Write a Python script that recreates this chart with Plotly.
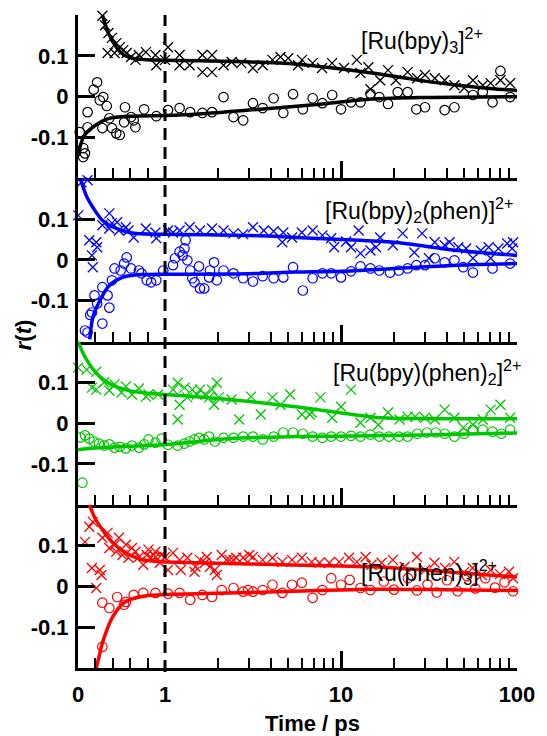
import plotly.graph_objects as go

# ---------------- data: anisotropy r(t), time in ps ----------------
# [Ru(bpy)3]2+
bpy3_cross_t = [0.28, 0.31, 0.35, 0.39, 0.34, 0.42, 0.44, 0.48, 0.52, 0.56, 0.61, 0.66, 0.70, 0.78, 0.89,
                0.90, 1.0, 1.04, 1.21, 1.21, 1.38, 1.63, 1.85, 1.63, 1.85, 2.15, 2.39, 2.71, 3.16, 3.59,
                4.08, 4.53, 5.01, 5.70, 6.0, 6.9, 7.8, 8.9, 10.4, 12.3, 12.9, 14.3, 14.7, 16.7, 18.5,
                20.5, 23.9, 27.1, 30.0, 34.1, 38.8, 44.1, 50.1, 56.2, 63.9, 70.8, 80.5, 91.4]
bpy3_cross_r = [0.198, 0.175, 0.156, 0.144, 0.107, 0.107, 0.131, 0.121, 0.114, 0.107, 0.097, 0.090, 0.102, 0.109, 0.102,
                0.077, 0.090, 0.121, 0.077, 0.102, 0.077, 0.102, 0.102, 0.060, 0.060, 0.077, 0.085, 0.082, 0.070, 0.077,
                0.090, 0.097, 0.094, 0.077, 0.090, 0.082, 0.070, 0.082, 0.070, 0.090, 0.058, 0.072, 0.018, 0.040, 0.065,
                0.040, 0.060, 0.045, 0.053, 0.045, 0.040, 0.028, 0.021, 0.040, 0.028, 0.033, 0.040, 0.033]
bpy3_circ_t = [0.02, 0.06, 0.08, 0.06, 0.11, 0.11, 0.18, 0.22, 0.25, 0.29, 0.33, 0.36, 0.39, 0.44, 0.48,
               0.28, 0.53, 0.54, 0.61, 0.64, 0.66, 0.76, 0.90, 1.04, 1.21, 1.39, 1.63, 1.85, 2.15, 2.45,
               2.78, 3.16, 3.59, 4.14, 4.70, 5.34, 6.07, 6.90, 7.84, 8.91, 10.0, 11.4, 12.9, 14.7, 16.5,
               18.5, 21.0, 23.9, 26.8, 30.0, 38.8, 44.1, 56.2, 63.9, 72.6, 80.5, 91.4]
bpy3_circ_r = [-0.087, -0.126, -0.139, -0.148, -0.038, -0.075, 0.017, 0.035, -0.009, -0.001, -0.023, -0.053, -0.077, -0.090, -0.094,
               -0.077, -0.063, -0.026, -0.050, -0.058, -0.075, -0.031, -0.048, -0.033, -0.028, -0.038, -0.040, -0.038, -0.001, -0.050,
               -0.058, -0.016, -0.028, -0.004, -0.040, 0.006, -0.031, -0.004, -0.016, 0.004, -0.031, -0.014, -0.014, 0.007, -0.001,
               -0.018, 0.011, 0.011, -0.031, -0.026, -0.033, -0.026, 0.004, 0.011, -0.014, 0.063, -0.001]
bpy3_cfit_t = [0.28, 0.35, 0.44, 0.52, 0.62, 0.75, 1, 2.5, 5.5, 9, 15, 20, 30, 46, 70, 100]
bpy3_cfit_r = [0.2, 0.155, 0.121, 0.103, 0.094, 0.091, 0.089, 0.086, 0.08, 0.07, 0.058, 0.05, 0.038, 0.028, 0.02, 0.015]
bpy3_ofit_t = [0.005, 0.03, 0.06, 0.1, 0.2, 0.35, 0.6, 1, 1.5, 3, 7, 15, 30, 100]
bpy3_ofit_r = [-0.145, -0.118, -0.1, -0.088, -0.07, -0.054, -0.048, -0.046, -0.043, -0.033, -0.02, -0.006, -0.002, 0.0]

# [Ru(bpy)2(phen)]2+
bpy2phen_cross_t = [0.003, 0.04, 0.11, 0.16, 0.17, 0.13, 0.21, 0.22, 0.28, 0.36, 0.36, 0.39, 0.45, 0.47, 0.55,
                    0.58, 0.64, 0.78, 0.90, 0.89, 1.04, 1.11, 1.21, 1.38, 1.58, 1.85, 2.15, 2.45, 2.78, 3.16,
                    3.64, 4.14, 4.70, 4.64, 5.27, 5.99, 6.9, 7.84, 8.80, 9.14, 10.7, 11.4, 12.6, 12.9, 14.7,
                    15.8, 16.7, 19.7, 22.4, 26.1, 28.9, 31.6, 34.1, 38.8, 41.4, 46.4, 51.4, 56.2, 62.3, 69.0,
                    70.8, 78.4, 88.0, 93.8, 95.0]
bpy2phen_cross_r = [0.109, 0.190, 0.195, 0.011, -0.018, 0.048, 0.043, 0.031, 0.085, 0.114, 0.077, 0.090, 0.092, 0.072, 0.080,
                    0.072, 0.055, 0.077, 0.053, 0.067, 0.072, 0.067, 0.072, 0.080, 0.072, 0.077, 0.072, 0.065, 0.063, 0.080,
                    0.072, 0.070, 0.067, 0.043, 0.055, 0.067, 0.072, 0.060, 0.053, 0.031, 0.045, 0.031, 0.072, 0.016, 0.023,
                    0.031, 0.055, 0.036, 0.065, 0.018, 0.065, 0.004, 0.043, 0.036, 0.043, 0.031, 0.028, 0.004, 0.023, 0.031,
                    0.004, 0.028, 0.040, 0.028, 0.043]
bpy2phen_circ_t = [0.08, 0.11, 0.16, 0.14, 0.19, 0.22, 0.28, 0.28, 0.34, 0.36, 0.39, 0.42, 0.49, 0.53, 0.56,
                   0.61, 0.70, 0.73, 0.79, 0.84, 0.90, 0.98, 1.11, 1.14, 1.21, 1.26, 1.29, 1.31, 1.34, 1.39,
                   1.43, 1.47, 1.56, 1.58, 1.67, 1.78, 1.80, 1.90, 1.97, 2.15, 2.45, 2.78, 3.16, 3.59, 4.14,
                   4.70, 5.34, 6.07, 6.90, 7.84, 8.80, 10.0, 11.4, 12.9, 14.7, 16.5, 19.0, 21.3, 23.9, 26.8,
                   30.0, 34.1, 38.8, 44.1, 49.5, 56.2, 72.6, 91.4]
bpy2phen_circ_r = [-0.173, -0.178, -0.129, -0.135, -0.087, -0.107, -0.067, -0.156, -0.087, -0.117, -0.050, -0.021, -0.026, -0.009, 0.006,
                   -0.021, -0.026, -0.033, -0.050, -0.055, -0.050, -0.026, -0.013, 0.004, 0.020, 0.011, 0.028, 0.048, -0.001, -0.026,
                   -0.045, -0.055, -0.016, -0.070, -0.070, -0.043, -0.026, -0.006, -0.050, -0.026, -0.033, -0.045, -0.053, -0.040, -0.045,
                   -0.043, -0.018, -0.075, -0.045, -0.033, -0.033, -0.043, -0.028, -0.016, -0.021, -0.026, -0.031, -0.026, -0.021, -0.013,
                   -0.013, 0.004, -0.006, -0.001, -0.018, -0.031, -0.021, -0.009]
bpy2phen_cfit_t = [0.03, 0.1, 0.17, 0.28, 0.44, 0.62, 1, 3, 5.5, 10, 20, 46, 100]
bpy2phen_cfit_r = [0.197, 0.155, 0.129, 0.097, 0.077, 0.066, 0.063, 0.06, 0.055, 0.05, 0.043, 0.023, 0.011]
bpy2phen_ofit_t = [0.135, 0.17, 0.25, 0.36, 0.51, 0.73, 1, 3, 5.5, 10, 20, 46, 100]
bpy2phen_ofit_r = [-0.195, -0.141, -0.1, -0.063, -0.043, -0.036, -0.035, -0.034, -0.03, -0.028, -0.021, -0.013, -0.009]

# [Ru(bpy)(phen)2]2+
bpyphen2_cross_t = [0.0, 0.10, 0.21, 0.16, 0.21, 0.30, 0.36, 0.42, 0.50, 0.55, 0.62, 0.70, 0.78, 0.81, 0.92,
                    1.11, 1.18, 1.21, 1.18, 1.29, 1.34, 1.43, 1.52, 1.58, 1.69, 1.78, 1.85, 1.90, 1.97, 2.02,
                    2.39, 2.64, 3.08, 3.50, 4.08, 4.53, 5.14, 5.99, 6.64, 6.81, 7.64, 8.91, 10.0, 11.4, 12.9,
                    14.7, 16.3, 18.5, 21.5, 23.9, 26.4, 30.0, 34.1, 38.8, 44.1, 49.5, 56.2, 63.9, 70.8, 80.5,
                    91.4]
bpyphen2_cross_r = [0.136, 0.131, 0.126, 0.087, 0.082, 0.100, 0.080, 0.095, 0.075, 0.090, 0.070, 0.085, 0.065, 0.070, 0.070,
                    0.082, 0.099, 0.045, 0.009, 0.087, 0.063, 0.082, 0.070, 0.082, 0.070, 0.063, 0.082, 0.045, 0.099, 0.063,
                    0.058, 0.009, 0.065, 0.021, 0.063, 0.045, 0.070, 0.021, 0.021, 0.026, 0.063, 0.013, 0.040, 0.082, 0.001,
                    0.013, -0.004, 0.026, 0.009, 0.016, 0.016, 0.013, 0.009, 0.033, 0.013, -0.011, -0.004, 0.009, 0.033, 0.045,
                    0.013]
bpyphen2_circ_t = [0.05, 0.03, 0.08, 0.13, 0.18, 0.24, 0.30, 0.36, 0.42, 0.48, 0.55, 0.62, 0.70, 0.76, 0.81,
                   0.89, 0.96, 1.04, 1.18, 1.29, 1.38, 1.47, 1.56, 1.67, 1.78, 1.92, 2.15, 2.45, 2.78, 3.16,
                   3.59, 4.14, 4.70, 5.34, 6.07, 6.90, 7.84, 8.80, 10.0, 11.4, 12.9, 14.7, 16.5, 18.7, 21.3,
                   23.9, 27.1, 30.8, 34.6, 38.8, 44.1, 50.1, 56.2, 63.9, 72.6, 81.5, 91.4]
bpyphen2_circ_r = [-0.146, -0.035, -0.030, -0.038, -0.045, -0.050, -0.055, -0.052, -0.060, -0.058, -0.062, -0.055, -0.060, -0.052, -0.040,
                   -0.048, -0.038, -0.053, -0.055, -0.050, -0.045, -0.040, -0.036, -0.040, -0.033, -0.045, -0.036, -0.036, -0.033, -0.033,
                   -0.040, -0.033, -0.023, -0.023, -0.026, -0.033, -0.036, -0.033, -0.033, -0.031, -0.033, -0.028, -0.033, -0.033, -0.033,
                   -0.033, -0.026, -0.023, -0.023, -0.026, -0.033, -0.026, -0.016, -0.016, -0.021, -0.026, -0.016]
bpyphen2_cfit_t = [0.0, 0.05, 0.1, 0.2, 0.3, 0.45, 0.6, 0.8, 1, 2.3, 5.5, 10, 16, 30, 100]
bpyphen2_cfit_r = [0.2, 0.175, 0.155, 0.125, 0.105, 0.088, 0.079, 0.073, 0.07, 0.058, 0.04, 0.025, 0.014, 0.011, 0.011]
bpyphen2_ofit_t = [0.0, 0.2, 0.5, 0.8, 1, 2.3, 5.5, 15, 40, 100]
bpyphen2_ofit_r = [-0.065, -0.061, -0.057, -0.055, -0.053, -0.038, -0.033, -0.031, -0.028, -0.024]

# [Ru(phen)3]2+
phen3_cross_t = [0.08, 0.13, 0.17, 0.16, 0.25, 0.21, 0.27, 0.28, 0.34, 0.36, 0.42, 0.44, 0.47, 0.51, 0.55,
                 0.58, 0.62, 0.66, 0.70, 0.75, 0.79, 0.84, 0.89, 0.94, 1.0, 0.81, 0.89, 0.96, 1.04, 1.11,
                 1.21, 1.23, 1.34, 1.47, 1.49, 1.58, 1.69, 1.73, 1.80, 1.92, 1.97, 2.10, 2.24, 2.33, 2.45,
                 2.54, 2.78, 3.01, 3.16, 3.59, 4.08, 4.64, 5.27, 5.99, 6.81, 7.55, 8.58, 9.75, 11.1, 12.3,
                 13.8, 14.9, 17.0, 19.7, 23.0, 27.0, 30.0, 34.0, 39.0, 44.0, 50.0, 56.0, 63.0, 71.0, 80.0,
                 90.0, 95.0]
phen3_cross_r = [0.109, 0.146, 0.158, 0.045, 0.040, -0.004, 0.028, 0.119, 0.131, 0.094, 0.102, 0.085, 0.119, 0.077, 0.102,
                 0.070, 0.094, 0.085, 0.072, 0.053, 0.077, 0.070, 0.085, 0.058, 0.072, 0.090, 0.072, 0.077, 0.040, 0.082,
                 0.065, 0.040, 0.070, 0.036, 0.048, 0.065, 0.058, 0.072, 0.048, 0.040, 0.028, 0.077, 0.065, 0.065, 0.065,
                 0.070, 0.070, 0.077, 0.072, 0.065, 0.070, 0.060, 0.065, 0.070, 0.060, 0.058, 0.058, 0.060, 0.070, 0.060,
                 0.072, 0.053, 0.058, 0.065, 0.048, 0.072, 0.040, 0.058, 0.045, 0.060, 0.035, 0.045, 0.028, 0.040, 0.030,
                 0.036, 0.020]
phen3_circ_t = [0.28, 0.28, 0.36, 0.45, 0.53, 0.55, 0.64, 0.75, 0.89, 1.04, 1.21, 1.39, 1.63, 1.85, 2.10,
                2.45, 2.78, 2.97, 3.16, 3.59, 4.08, 4.64, 5.27, 5.99, 6.90, 7.84, 8.80, 10.0, 11.2, 12.9,
                14.7, 17.5, 20.0, 24.0, 27.0, 31.0, 35.0, 40.0, 46.0, 52.0, 58.0, 66.0, 75.0, 85.0, 95.0]
phen3_circ_r = [-0.040, -0.148, -0.053, -0.026, -0.045, -0.038, -0.021, -0.016, -0.016, -0.018, -0.016, -0.033, -0.021, -0.026, -0.009,
                -0.004, -0.013, -0.009, -0.013, -0.009, 0.004, -0.016, 0.004, 0.009, -0.028, -0.009, 0.020, 0.004, 0.016, -0.004,
                -0.009, 0.012, -0.008, 0.020, -0.010, 0.005, -0.015, 0.015, -0.012, 0.025, -0.005, 0.020, -0.003, 0.010, -0.012]
phen3_cfit_t = [0.13, 0.2, 0.28, 0.4, 0.55, 0.73, 1, 3, 10, 15, 30, 50, 100]
phen3_cfit_r = [0.2, 0.165, 0.139, 0.107, 0.082, 0.066, 0.06, 0.055, 0.05, 0.048, 0.04, 0.032, 0.023]
phen3_ofit_t = [0.21, 0.25, 0.28, 0.33, 0.38, 0.45, 0.51, 0.6, 0.75, 1, 3, 15, 40, 100]
phen3_ofit_r = [-0.2, -0.165, -0.139, -0.108, -0.082, -0.058, -0.043, -0.032, -0.024, -0.02, -0.015, -0.007, -0.008, -0.01]

labels = ["[Ru(bpy)<sub>3</sub>]<sup>2+</sup>",
          "[Ru(bpy)<sub>2</sub>(phen)]<sup>2+</sup>",
          "[Ru(bpy)(phen)<sub>2</sub>]<sup>2+</sup>",
          "[Ru(phen)<sub>3</sub>]<sup>2+</sup>"]
colors = ["#000000", "#0000ff", "#00c800", "#ff0000"]

# ---------------- figure ----------------
W, H = 547, 736
ML, MR, MT, MB = 78, 20, 15, 68
PW, PH = W - ML - MR, H - MT - MB
SPLIT = 89 / PW          # share of the width given to the linear 0-1 ps segment

FONT = "Liberation Sans"
TICKFONT = dict(family=FONT, size=22, color="black", weight="bold")

panels = [
    (bpy3_cross_t, bpy3_cross_r, bpy3_circ_t, bpy3_circ_r, bpy3_cfit_t, bpy3_cfit_r, bpy3_ofit_t, bpy3_ofit_r),
    (bpy2phen_cross_t, bpy2phen_cross_r, bpy2phen_circ_t, bpy2phen_circ_r,
     bpy2phen_cfit_t, bpy2phen_cfit_r, bpy2phen_ofit_t, bpy2phen_ofit_r),
    (bpyphen2_cross_t, bpyphen2_cross_r, bpyphen2_circ_t, bpyphen2_circ_r,
     bpyphen2_cfit_t, bpyphen2_cfit_r, bpyphen2_ofit_t, bpyphen2_ofit_r),
    (phen3_cross_t, phen3_cross_r, phen3_circ_t, phen3_circ_r, phen3_cfit_t, phen3_cfit_r, phen3_ofit_t, phen3_ofit_r),
]
# label anchors in paper coordinates: (x, y, xanchor)
label_pos = [(0.639, 0.962, "left"), (0.557, 0.701, "left"),
             ((533 - ML) / PW, 0.453, "right"), (0.639, 0.147, "left")]


def part(t, r, linear, fit=False):
    """Split a series into the linear (t < 1) and logarithmic (t >= 1) time segments."""
    if linear:
        keep = [(a, b) for a, b in zip(t, r) if a < 1 or (fit and a == 1)]
    else:
        keep = [(a, b) for a, b in zip(t, r) if a >= 1]
    return [k[0] for k in keep], [k[1] for k in keep]


fig = go.Figure()
layout = {}

for i, (ct, cr, ot, orr, cft, cfr, oft, ofr) in enumerate(panels):
    ia, ib = 2 * i + 1, 2 * i + 2
    sa = "" if ia == 1 else str(ia)
    sb = str(ib)
    col = colors[i]
    top = 1 - i * 0.25
    bot = top - 0.25

    for linear, xs, ys in ((True, "x" + sa, "y" + sa), (False, "x" + sb, "y" + sb)):
        tx, rx = part(ct, cr, linear)
        fig.add_trace(go.Scatter(x=tx, y=rx, xaxis=xs, yaxis=ys, mode="markers", cliponaxis=False,
                                 marker=dict(symbol="x-thin-open", size=10, color=col,
                                             line=dict(color=col, width=1.3)),
                                 showlegend=False, hoverinfo="skip"))
        to, ro = part(ot, orr, linear)
        fig.add_trace(go.Scatter(x=to, y=ro, xaxis=xs, yaxis=ys, mode="markers", cliponaxis=False,
                                 marker=dict(symbol="circle-open", size=9.5, color=col,
                                             line=dict(color=col, width=1.2)),
                                 showlegend=False, hoverinfo="skip"))
        for ft, fr in ((cft, cfr), (oft, ofr)):
            fx, fy = part(ft, fr, linear, fit=True)
            fig.add_trace(go.Scatter(x=fx, y=fy, xaxis=xs, yaxis=ys, mode="lines",
                                     line=dict(color=col, width=3.5, shape="spline", smoothing=0.8),
                                     showlegend=False, hoverinfo="skip"))

    common_x = dict(showline=True, linecolor="black", linewidth=3, ticks="inside", tickcolor="black",
                    ticklen=17, tickwidth=3, showgrid=False, zeroline=False, tickfont=TICKFONT,
                    showticklabels=(i == 3), ticklabelstandoff=5, fixedrange=True)
    layout["xaxis" + sa] = dict(common_x, domain=[0, SPLIT], range=[0, 1], anchor="y" + sa,
                                tickmode="array", tickvals=[0, 1], ticktext=["0", "1"],
                                minor=dict(tickmode="array", tickvals=[0.2, 0.4, 0.6, 0.8], ticks="inside",
                                           ticklen=10, tickwidth=2, tickcolor="black", showgrid=False))
    layout["xaxis" + sb] = dict(common_x, type="log", domain=[SPLIT, 1], range=[0, 2], anchor="y" + sb,
                                tickmode="array", tickvals=[10, 100], ticktext=["10", "100"],
                                minor=dict(tickmode="array",
                                           tickvals=[2, 3, 4, 5, 6, 7, 8, 9, 20, 30, 40, 50, 60, 70, 80, 90],
                                           ticks="inside", ticklen=10, tickwidth=2, tickcolor="black",
                                           showgrid=False))
    layout["yaxis" + sa] = dict(domain=[bot, top], range=[-0.2, 0.2], anchor="x" + sa, showline=True,
                                linecolor="black", linewidth=3, ticks="inside", tickcolor="black",
                                ticklen=17, tickwidth=3, tickmode="array",
                                tickvals=[-0.1, 0, 0.1, 0.2], ticktext=["-0.1", "0", "0.1", ""],
                                tickfont=TICKFONT, ticklabelstandoff=2, showgrid=False, zeroline=False,
                                fixedrange=True)
    layout["yaxis" + sb] = dict(domain=[bot, top], range=[-0.2, 0.2], anchor="x" + sb, visible=False,
                                fixedrange=True)

annotations = []
for lab, (lx, ly, xa) in zip(labels, label_pos):
    annotations.append(dict(text=lab, xref="paper", yref="paper", x=lx, y=ly, xanchor=xa,
                            yanchor="middle", showarrow=False,
                            font=dict(family=FONT, size=23, color="black")))
annotations.append(dict(text="Time / ps", xref="paper", yref="paper", x=(318 - ML) / PW, y=(668 - 723) / PH,
                        xanchor="center", yanchor="middle", showarrow=False,
                        font=dict(family=FONT, size=22, color="black", weight="bold")))
annotations.append(dict(text="<i>r</i>(<i>t</i>)", xref="paper", yref="paper", x=(22 - ML) / PW,
                        y=(668 - 335) / PH, xanchor="center", yanchor="middle", textangle=-90,
                        showarrow=False, font=dict(family=FONT, size=22, color="black", weight="bold")))

# dashed marker at t = 1 ps, placed at the junction of the linear and log segments
fig.update_layout(
    width=W, height=H,
    margin=dict(l=ML, r=MR, t=MT, b=MB, pad=0),
    paper_bgcolor="white", plot_bgcolor="white",
    annotations=annotations,
    shapes=[dict(type="line", xref="paper", yref="paper", x0=SPLIT, x1=SPLIT, y0=-0.006, y1=1,
                 line=dict(color="black", width=3, dash="12px,7px"), layer="above")],
    **layout,
)

fig.write_html("out.html")
